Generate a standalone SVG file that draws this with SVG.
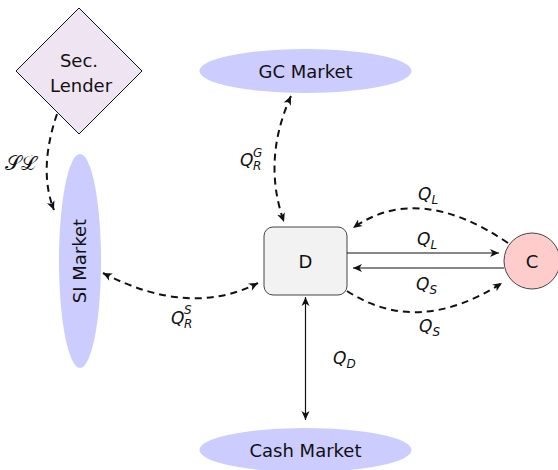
<svg xmlns="http://www.w3.org/2000/svg" width="558" height="470" viewBox="0 0 558 470">
  <style>
    .lbl { font-family: "DejaVu Sans", sans-serif; font-size: 18px; fill: #111; text-anchor: middle; }
    .math { font-family: "DejaVu Sans", sans-serif; font-size: 17px; font-style: italic; fill: #111; }
    .sub { font-size: 12px; }
    .idx { font-family: "DejaVu Sans", sans-serif; font-size: 12px; font-style: italic; fill: #111; }
    .market { fill: #ccccff; stroke: none; }
    .solid { fill: none; stroke: #111; stroke-width: 1.2; }
    .dashed { fill: none; stroke: #111; stroke-width: 2; stroke-dasharray: 7 5; }
  </style>
  <defs>
    <marker id="arr" viewBox="-10 -5 12 10" refX="0" refY="0" markerWidth="12" markerHeight="10" markerUnits="userSpaceOnUse" orient="auto-start-reverse">
      <path d="M0,0 L-9,-4 L-6.5,0 L-9,4 Z" fill="#111"/>
    </marker>
  </defs>

  <!-- nodes -->
  <g id="sec-lender">
    <polygon points="79,8 142,71 79,134 16,71" fill="#efe5f2" stroke="#111" stroke-width="1"/>
    <text class="lbl" x="79" y="67">Sec.</text>
    <text class="lbl" x="81" y="92">Lender</text>
  </g>
  <g id="si-market">
    <ellipse class="market" cx="80" cy="261" rx="21" ry="107"/>
    <text class="lbl" transform="translate(86,261) rotate(-90)" x="0" y="0">SI Market</text>
  </g>
  <g id="gc-market">
    <ellipse class="market" cx="305.5" cy="71" rx="106" ry="22"/>
    <text class="lbl" x="305.5" y="78">GC Market</text>
  </g>
  <g id="cash-market">
    <ellipse class="market" cx="305.5" cy="450" rx="106" ry="22"/>
    <text class="lbl" x="305.5" y="457">Cash Market</text>
  </g>
  <g id="dealer">
    <rect x="264" y="227" width="83" height="68" rx="9" ry="9" fill="#f2f2f2" stroke="#444" stroke-width="1"/>
    <text class="lbl" x="305.5" y="268">D</text>
  </g>
  <g id="client">
    <circle cx="532" cy="261" r="28" fill="#ffcccc" stroke="#444" stroke-width="1"/>
    <text class="lbl" x="532" y="268">C</text>
  </g>

  <!-- connectors -->
  <g id="connectors">
    <path class="dashed" d="M57,114 Q38,170 54,210" marker-end="url(#arr)"/>
    <path class="dashed" d="M291,96 Q262,160 284,222" marker-start="url(#arr)" marker-end="url(#arr)"/>
    <path class="dashed" d="M103,273 Q190,318 258,283" marker-start="url(#arr)" marker-end="url(#arr)"/>
    <path class="dashed" d="M508,243 Q418,182 353,228" marker-end="url(#arr)"/>
    <path class="dashed" d="M347,291 Q418,337 502,283" marker-end="url(#arr)"/>
    <path class="solid" d="M347,253 L499,253" marker-end="url(#arr)"/>
    <path class="solid" d="M504,268 L353,268" marker-end="url(#arr)"/>
    <path class="solid" d="M305.5,297 L305.5,420" marker-start="url(#arr)" marker-end="url(#arr)"/>
  </g>

  <!-- connector labels -->
  <g id="labels">
    <text x="5" y="170" font-family="DejaVu Serif, serif" font-size="21" fill="#111">𝒮ℒ</text>
    <text class="math" x="240" y="166">Q</text>
    <text class="idx" x="253" y="157">G</text>
    <text class="idx" x="253" y="170">R</text>
    <text class="math" x="171" y="324">Q</text>
    <text class="idx" x="184" y="314">S</text>
    <text class="idx" x="184" y="328">R</text>
    <text class="math" x="418" y="200">Q<tspan class="sub" dy="4">L</tspan></text>
    <text class="math" x="417" y="245">Q<tspan class="sub" dy="4">L</tspan></text>
    <text class="math" x="416" y="290">Q<tspan class="sub" dy="4">S</tspan></text>
    <text class="math" x="419" y="332">Q<tspan class="sub" dy="4">S</tspan></text>
    <text class="math" x="333" y="364">Q<tspan class="sub" dy="4">D</tspan></text>
  </g>
</svg>
